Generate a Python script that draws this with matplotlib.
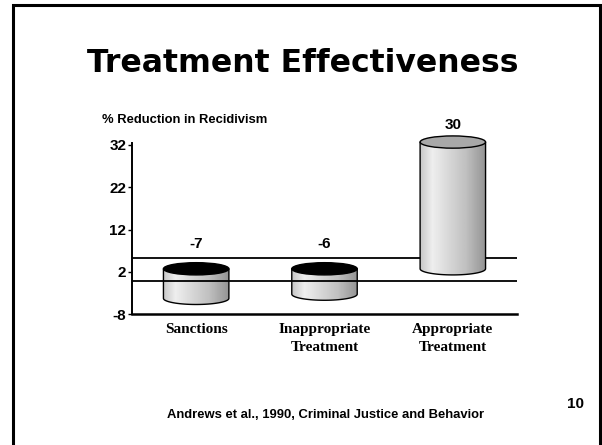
import numpy as np
import matplotlib
matplotlib.use('Agg')
import matplotlib.pyplot as plt
from matplotlib.path import Path
from matplotlib.patches import PathPatch, Ellipse, Rectangle

categories = ['Sanctions', 'Inappropriate\nTreatment', 'Appropriate\nTreatment']
values = [-7, -6, 30]
value_labels = ['-7', '-6', '30']
yticks = [-8, 2, 12, 22, 32]

# 3d look of the old slide chart: floor depth and half of it
depth = 5.4
mid = depth / 2
bar_w = 0.51
ell_h = 1.45  # half height of the cylinder ellipses, data units

W, H = 602, 445
fig = plt.figure(figsize=(W / 100, H / 100), dpi=100)

# slide frame
fig.patches.append(Rectangle((13 / W, -0.1), (600 - 13) / W, 1.1 - 5 / H,
                             transform=fig.transFigure, fill=False,
                             ec='black', lw=2.2))

fig.text(303 / W, 1 - 63 / H, 'Treatment Effectiveness', ha='center', va='center',
         fontsize=22.7, fontweight='bold', family='DejaVu Sans')
fig.text(102 / W, 1 - 120 / H, '% Reduction in Recidivism', ha='left', va='center',
         fontsize=9.4, fontweight='bold', family='Liberation Sans')
fig.text(326 / W, 1 - 415 / H, 'Andrews et al., 1990, Criminal Justice and Behavior',
         ha='center', va='center', fontsize=9.4, fontweight='bold', family='Liberation Sans')
fig.text(576 / W, 1 - 404 / H, '10', ha='center', va='center',
         fontsize=11, fontweight='bold', family='Liberation Sans')

ppu = (314 - 145) / 40
ymin, ymax = -8, 36
ax = fig.add_axes([132 / W, 1 - 314 / H, 385 / W, (ymax - ymin) * ppu / H])
ax.set_xlim(-0.5, 2.5)
ax.set_ylim(ymin, ymax)
ax.patch.set_alpha(0)
for s in ['top', 'right']:
    ax.spines[s].set_visible(False)
ax.spines['left'].set_bounds(-8, 32.4)
ax.spines['left'].set_linewidth(1.4)
ax.spines['bottom'].set_linewidth(1.8)
ax.set_yticks(yticks)
ax.set_yticklabels([str(t) for t in yticks], fontsize=11, fontweight='bold',
                   family='Liberation Sans')
ax.tick_params(axis='y', length=3, width=1, pad=1)
ax.set_xticks([])

# floor edges at zero
ax.axhline(depth - 0.1, color='black', lw=1.3, zorder=1)
ax.axhline(-0.1, color='black', lw=1.3, zorder=5)

# shading across the cylinder body
prof = np.concatenate([np.linspace(0.78, 0.93, 12), np.linspace(0.93, 0.76, 30),
                       np.linspace(0.76, 0.58, 20)])
grad = np.tile(prof, (2, 1))

for i, v in enumerate(values):
    lo, hi = sorted([mid, mid + v])
    x0, x1 = i - bar_w / 2, i + bar_w / 2
    t = np.linspace(np.pi, 2 * np.pi, 40)
    arc = np.column_stack([i + bar_w / 2 * np.cos(t), lo + ell_h * np.sin(t)])
    verts = np.vstack([[x0, hi], [x0, lo], arc, [x1, hi], [x0, hi]])
    body = Path(verts, closed=True)
    im = ax.imshow(grad, cmap='gray', vmin=0, vmax=1, aspect='auto',
                   extent=[x0, x1, lo - ell_h, hi], zorder=2, interpolation='bilinear')
    im.set_clip_path(PathPatch(body, transform=ax.transData))
    ax.add_patch(PathPatch(body, fc='none', ec='black', lw=1.0, zorder=3))
    top_fc = 'black' if v < 0 else '#a8a8a8'
    ax.add_patch(Ellipse((i, hi), bar_w, 2 * ell_h, fc=top_fc, ec='black', lw=1.0, zorder=3))
    ly = 8.6 if v < 0 else hi + 4.1
    ax.text(i, ly, value_labels[i], ha='center', va='center', fontsize=11,
            fontweight='bold', family='Liberation Sans')
    ax.text(i, -10.2, categories[i], ha='center', va='top', fontsize=11,
            fontweight='bold', family='Liberation Serif', linespacing=1.5)

ax.set_xlim(-0.5, 2.5)
ax.set_ylim(ymin, ymax)
fig.savefig('out.png', dpi=100)
